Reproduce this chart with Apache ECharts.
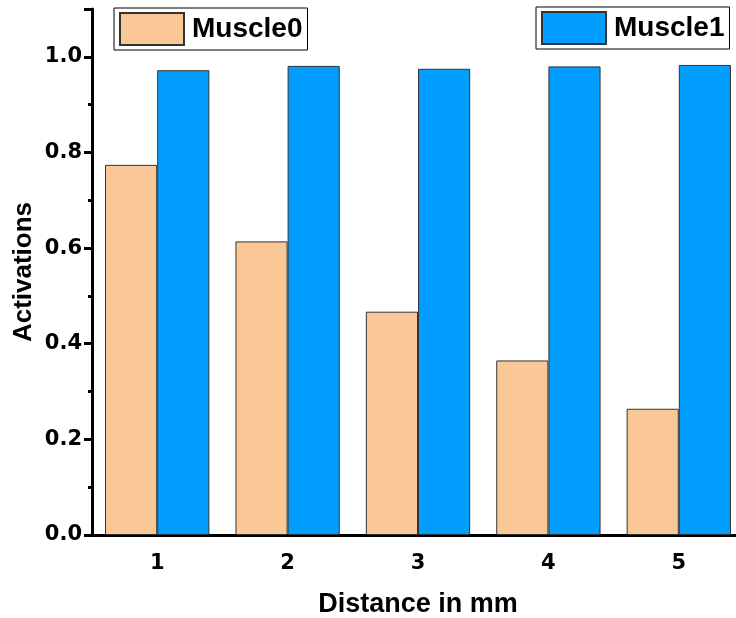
<!DOCTYPE html>
<html>
<head>
<meta charset="utf-8">
<script src="https://cdn.jsdelivr.net/npm/echarts@6/dist/echarts.min.js"></script>
<style>
  html, body { margin: 0; padding: 0; background: #fff; overflow: hidden; }
  /* the plot runs past the right edge of the window */
  #chart { width: 760px; height: 618px; }
</style>
</head>
<body>
<div id="chart"></div>
<script>
// Distances (mm) on the category axis
const distances = ['1', '2', '3', '4', '5'];
// Mean activation of each muscle at each distance
const muscle0 = [0.774, 0.614, 0.467, 0.365, 0.264];
const muscle1 = [0.972, 0.981, 0.975, 0.980, 0.983];

const FONT = '"Liberation Sans", Arial, sans-serif';
const TICK_FONT = '"DejaVu Sans", "Liberation Sans", sans-serif';
const peach = '#F9C896';
const blue = '#019EFF';

const chart = echarts.init(document.getElementById('chart'), null, { renderer: 'canvas' });

const legendBase = {
  orient: 'horizontal',
  borderColor: '#000',
  borderWidth: 1,
  padding: [4, 5, 4, 5],
  itemWidth: 64,
  itemHeight: 32,
  icon: 'rect',
  textStyle: { fontFamily: FONT, fontWeight: 'bold', fontSize: 28, color: '#000', padding: [0, 0, 0, 3] }
};

chart.setOption({
  animation: false,
  backgroundColor: '#fff',
  legend: [
    Object.assign({}, legendBase, { data: ['Muscle0'], left: 114, top: 8 }),
    Object.assign({}, legendBase, { data: ['Muscle1'], left: 536, top: 7 })
  ],
  grid: { left: 92, top: 9, width: 652, bottom: 83, containLabel: false, outerBoundsMode: 'none' },
  xAxis: [
    {
      type: 'category',
      data: distances,
      name: 'Distance in mm',
      nameLocation: 'middle',
      nameGap: 56,
      nameMoveOverlap: false,
      nameTextStyle: { fontFamily: FONT, fontWeight: 'bold', fontSize: 27, color: '#000' },
      axisLine: { lineStyle: { color: '#000', width: 3 } },
      axisTick: { alignWithLabel: true, length: 8, lineStyle: { color: '#000', width: 3 } },
      axisLabel: { fontFamily: TICK_FONT, fontWeight: 'bold', fontSize: 21, color: '#000', margin: 18 },
      splitLine: { show: false }
    },
    {
      // half-step ticks between distances
      type: 'category',
      data: distances,
      position: 'bottom',
      axisLine: { show: false },
      axisTick: { alignWithLabel: false, length: 4, lineStyle: { color: '#000', width: 3 } },
      axisLabel: { show: false },
      splitLine: { show: false }
    }
  ],
  yAxis: [
    {
      type: 'value',
      min: 0,
      max: 1.1,
      interval: 0.2,
      name: 'Activations',
      nameLocation: 'middle',
      nameGap: 55,
      nameMoveOverlap: false,
      nameTextStyle: { fontFamily: FONT, fontWeight: 'bold', fontSize: 26, color: '#000' },
      axisLine: { show: true, lineStyle: { color: '#000', width: 3 } },
      axisTick: { show: true, length: 8, lineStyle: { color: '#000', width: 3 } },
      axisLabel: {
        fontFamily: TICK_FONT, fontWeight: 'bold', fontSize: 21, color: '#000', margin: 10,
        formatter: v => (Math.round(v * 10) % 2 === 0 ? v.toFixed(1) : '')
      },
      splitLine: { show: false }
    },
    {
      // minor ticks every 0.1
      type: 'value',
      min: 0,
      max: 1.1,
      interval: 0.1,
      position: 'left',
      axisLine: { show: false },
      axisTick: { show: true, length: 4, lineStyle: { color: '#000', width: 3 } },
      axisLabel: { show: false },
      splitLine: { show: false }
    }
  ],
  series: [
    {
      name: 'Muscle0',
      type: 'bar',
      data: muscle0,
      barGap: '0%',
      barCategoryGap: '20%',
      itemStyle: { color: peach, borderColor: '#333', borderWidth: 1 }
    },
    {
      name: 'Muscle1',
      type: 'bar',
      data: muscle1,
      barGap: '0%',
      barCategoryGap: '20%',
      itemStyle: { color: blue, borderColor: '#333', borderWidth: 1 }
    }
  ]
});
</script>
</body>
</html>
